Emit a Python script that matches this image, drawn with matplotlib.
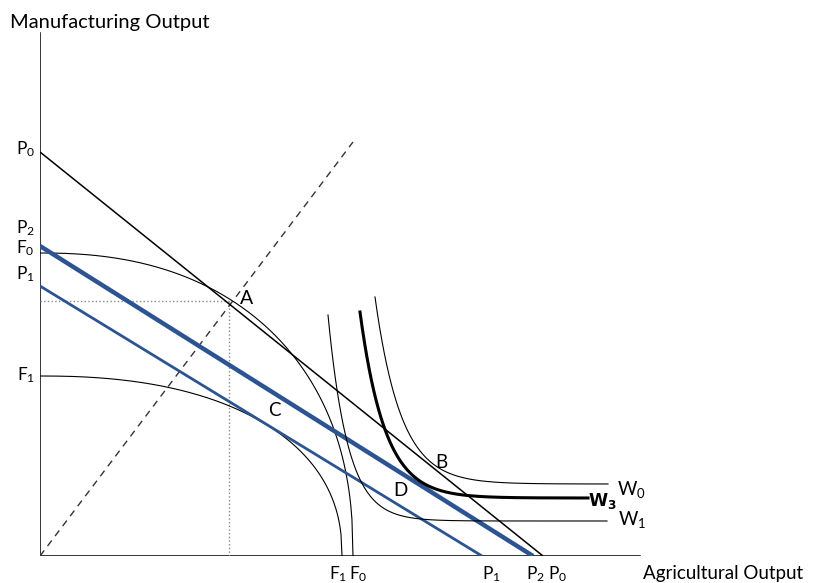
import matplotlib
matplotlib.use("Agg")
import matplotlib.pyplot as plt
import numpy as np

# budget / price lines: intercepts on manufacturing (y) and agricultural (x) axes
price_names = ["P0", "P1", "P2"]
price_mfg = [404, 270, 310]
price_agr = [503, 442, 493]

# production possibility frontiers (intercepts)
ppf_names = ["F0", "F1"]
ppf_mfg = [303, 180]
ppf_agr = [313, 302]
ppf_power = 2.3

# indifference curves: top point, floor, right end, decay
ic_names = ["W0", "W1", "W3"]
ic_top_x = [335, 288, 320]
ic_top_y = [259, 241, 244]
ic_floor = [72, 35, 58]
ic_end_x = [568, 567, 548]
ic_decay = [26, 20, 25]

# production point A and expansion ray
point_a = (189, 255)
ray_end = (313, 414)

plt.rcParams["font.family"] = ["Lato", "DejaVu Sans"]

fig = plt.figure(figsize=(8.21, 5.83), dpi=100)
ax = fig.add_axes([40 / 821, 27 / 583, 781 / 821, 556 / 583])
ax.set_xlim(0, 781)
ax.set_ylim(0, 556)
ax.axis("off")

blue = "#2c5493"

# axes
ax.plot([0, 0], [0, 523], color="black", lw=1.1)
ax.plot([0, 600], [0, 0], color="black", lw=1.1)

# dotted guides and dashed ray
ax.plot([0, point_a[0]], [point_a[1], point_a[1]], color="#888888", lw=1, ls=":")
ax.plot([point_a[0], point_a[0]], [0, point_a[1]], color="#888888", lw=1, ls=":")
ax.plot([0, ray_end[0]], [0, ray_end[1]], color="#333333", lw=1, ls=(0, (5, 4)))

# PPFs
for m, a in zip(ppf_mfg, ppf_agr):
    x = np.linspace(0, a, 300)
    y = m * (1 - (x / a) ** ppf_power) ** (1 / ppf_power)
    ax.plot(x, y, color="black", lw=0.8)

# price lines
styles = {"P0": ("black", 1.1), "P1": (blue, 2.0), "P2": (blue, 3.2)}
for n, m, a in zip(price_names, price_mfg, price_agr):
    c, w = styles[n]
    ax.plot([0, a], [m, 0], color=c, lw=w, solid_capstyle="butt")

# indifference curves
for n, tx, ty, fl, ex, s in zip(ic_names, ic_top_x, ic_top_y, ic_floor, ic_end_x, ic_decay):
    x = np.linspace(tx, ex, 300)
    y = fl + (ty - fl) * np.exp(-(x - tx) / s)
    ax.plot(x, y, color="black", lw=2.2 if n == "W3" else 0.8)

fs = 12.5
# point labels
ax.text(207, 257, "A", fontsize=14, ha="center", va="center")
ax.text(401, 93, "B", fontsize=13.5, ha="center", va="center")
ax.text(234, 145, "C", fontsize=13.5, ha="center", va="center")
ax.text(360, 65, "D", fontsize=13.5, ha="center", va="center")

ax.text(591, 66, r"$\mathregular{W_0}$", fontsize=13.5, ha="center", va="center")
ax.text(592, 37, r"$\mathregular{W_1}$", fontsize=13.5, ha="center", va="center")
ax.text(562, 55, r"$\mathbf{W_3}$", fontsize=12.5, ha="center", va="center")

# y-axis labels
ylabels = {"P0": 407, "P2": 328, "F0": 308, "P1": 282, "F1": 181}
for k, v in ylabels.items():
    ax.text(-5, v, r"$\mathregular{%s_%s}$" % (k[0], k[1]), fontsize=fs, ha="right", va="center")

# x-axis labels
xlabels = {"F1": 298, "F0": 318, "P1": 451, "P2": 495, "P0": 518}
for k, v in xlabels.items():
    ax.text(v, -18, r"$\mathregular{%s_%s}$" % (k[0], k[1]), fontsize=fs, ha="center", va="center")

ax.text(-30, 528, "Manufacturing Output", fontsize=14.5, ha="left", va="baseline")
ax.text(603, -18, "Agricultural Output", fontsize=13.5, ha="left", va="center")

fig.savefig("out.png", dpi=100)
